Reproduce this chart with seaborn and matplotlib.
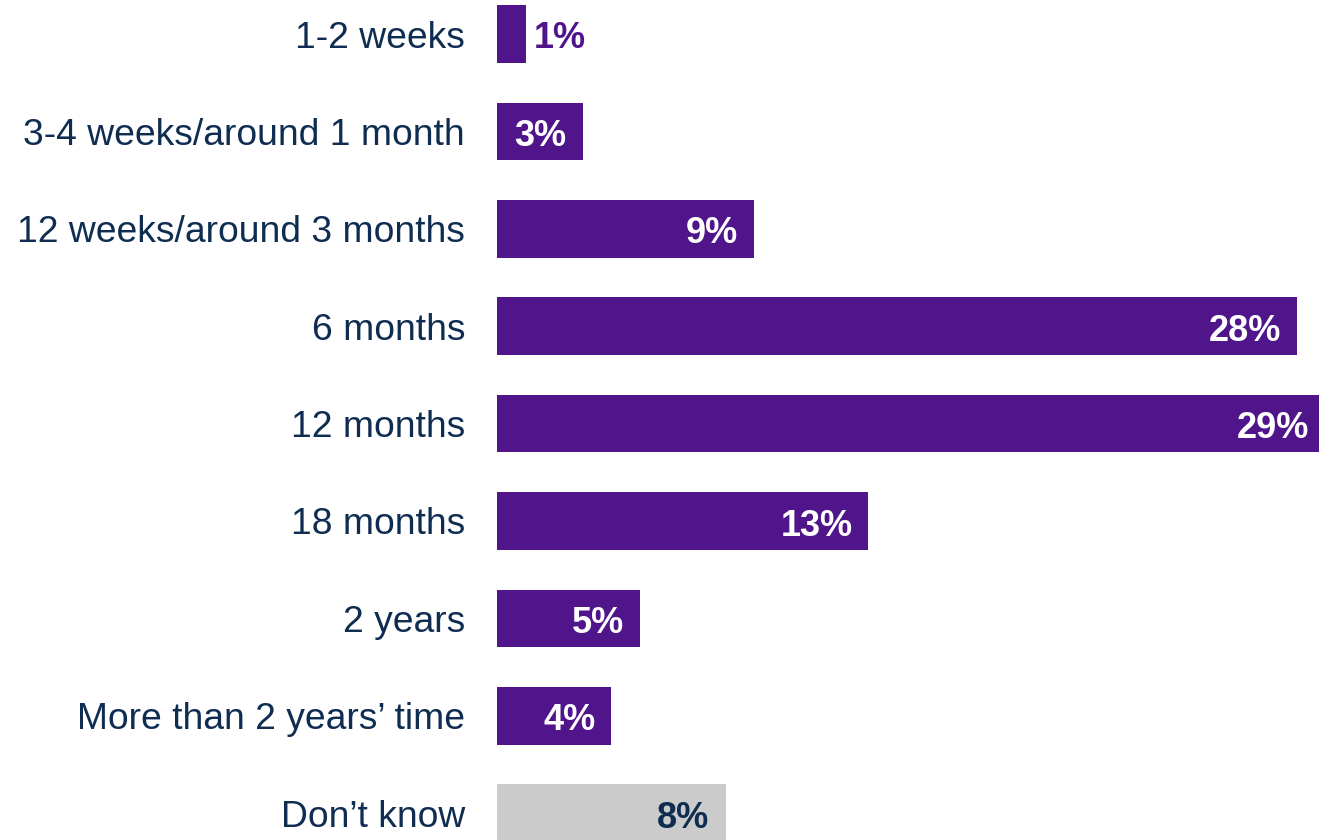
import matplotlib
matplotlib.use("Agg")
import matplotlib.pyplot as plt
import seaborn as sns
import pandas as pd
from matplotlib import transforms

categories = ["1-2 weeks", "3-4 weeks/around 1 month", "12 weeks/around 3 months",
              "6 months", "12 months", "18 months", "2 years",
              "More than 2 years\u2019 time", "Don\u2019t know"]
values = [1, 3, 9, 28, 29, 13, 5, 4, 8]
labels = ["1%", "3%", "9%", "28%", "29%", "13%", "5%", "4%", "8%"]

PURPLE = "#51158B"
GREY = "#CBCBCB"
NAVY = "#0F2C51"
bar_colors = [PURPLE] * 8 + [GREY]

sns.set_theme(style="white")
plt.rcParams['font.family'] = ['Liberation Sans', 'DejaVu Sans']

df = pd.DataFrame({"cat": categories, "val": values})

fig = plt.figure(figsize=(13.19, 8.40), dpi=100)
ax = fig.add_axes([497 / 1319, 0, 1 - 497 / 1319, 1])
sns.barplot(data=df, x="val", y="cat", hue="cat", palette=bar_colors,
            legend=False, width=0.59, ax=ax, saturation=1, linewidth=0)

ax.set_xlim(0, 822 / 28.57)
ax.set_ylim((840 - 34) / 97.4, -34 / 97.4)
ax.set_xlabel("")
ax.set_ylabel("")
ax.set_xticks([])
for s in ax.spines.values():
    s.set_visible(False)
ax.tick_params(axis="y", length=0, pad=23, labelsize=26.8, labelcolor=NAVY)

for i, (v, lab) in enumerate(zip(values, labels)):
    if v < 2:
        off = transforms.offset_copy(ax.transData, fig=fig, x=8, y=-1, units="dots")
        ax.text(v, i, lab, transform=off, ha="left", va="center_baseline",
                color=PURPLE, fontsize=26, fontweight="bold")
    else:
        off = transforms.offset_copy(ax.transData, fig=fig, x=-16, y=-1, units="dots")
        col = NAVY if i == len(values) - 1 else "white"
        ax.text(v, i, lab, transform=off, ha="right", va="center_baseline",
                color=col, fontsize=26, fontweight="bold")

fig.savefig("out.png", dpi=100)
